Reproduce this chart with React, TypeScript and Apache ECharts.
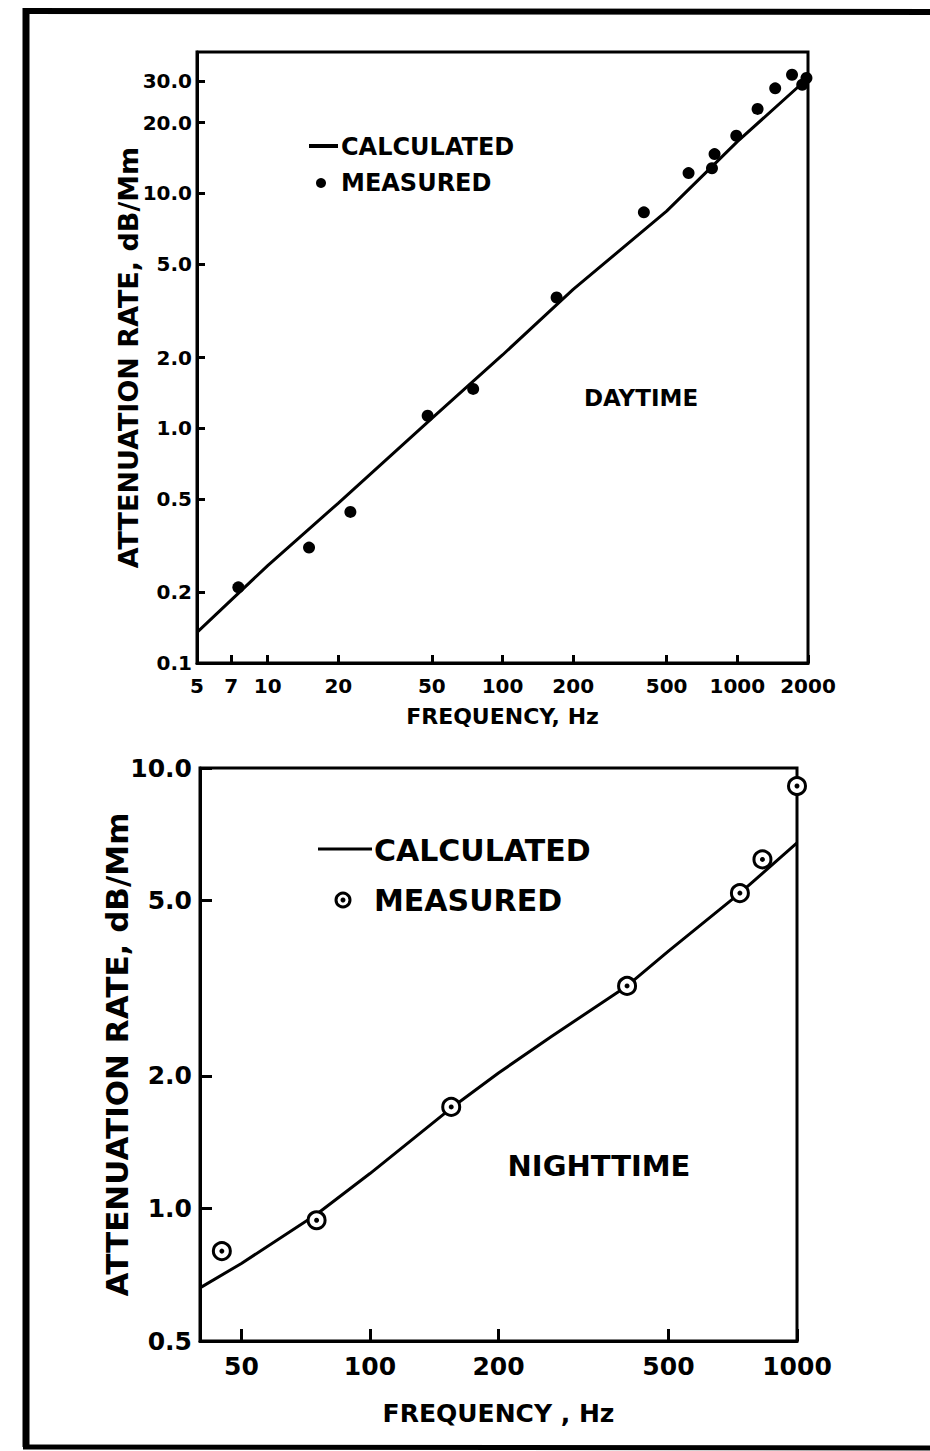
import React, { useEffect, useRef } from "react";
import * as echarts from "echarts";

// ---- Daytime panel ----
const dayTickFreqs = [5, 7, 10, 20, 50, 100, 200, 500, 1000, 2000];
const dayTickAtten = [0.1, 0.2, 0.5, 1, 2, 5, 10, 20, 30];
const dayCalcFreq = [5, 10, 20, 50, 100, 200, 500, 1000, 2000];
const dayCalcAtten = [0.135, 0.26, 0.48, 1.1, 2.05, 3.9, 8.4, 16.6, 31];
const dayMeasFreq = [7.5, 15, 22.5, 48, 75, 170, 400, 620, 780, 800, 990, 1220, 1450, 1710, 1890, 1970];
const dayMeasAtten = [0.21, 0.31, 0.44, 1.13, 1.47, 3.6, 8.3, 12.2, 12.8, 14.7, 17.6, 22.9, 28, 32, 29, 31];

// ---- Nighttime panel ----
const nightTickFreqs = [50, 100, 200, 500, 1000];
const nightTickAtten = [0.5, 1, 2, 5, 10];
const nightCalcFreq = [40, 50, 75, 100, 155, 200, 265, 400, 500, 735, 1000];
const nightCalcAtten = [0.66, 0.75, 0.97, 1.2, 1.69, 2.03, 2.45, 3.2, 3.84, 5.2, 6.76];
const nightMeasFreq = [45, 75, 155, 400, 735, 830, 1000];
const nightMeasAtten = [0.8, 0.94, 1.7, 3.2, 5.2, 6.2, 9.1];

const FONT = "DejaVu Sans";
const INK = "#000";

const zip = (a: number[], b: number[]) => a.map((v, i) => [v, b[i]]);
const fmtY = (v: number) => {
  const n = Number(Number(v).toPrecision(6));
  return n >= 1 ? n.toFixed(1) : String(n);
};
const fmtX = (v: number) => String(Number(Number(v).toPrecision(6)));

function makeX(idx: number, min: number, max: number, ticks: number[], fs: number, name: string, nameFs: number, gap: number, margin: number, tickLen: number) {
  return {
    type: "log",
    logBase: 10,
    gridIndex: idx,
    min,
    max,
    name,
    nameLocation: "middle",
    nameGap: gap,
    nameMoveOverlap: false,
    nameTextStyle: { fontFamily: FONT, fontWeight: "bold", fontSize: nameFs, color: INK },
    axisLine: { show: true, lineStyle: { color: INK, width: 3 } },
    axisTick: { show: true, inside: true, length: tickLen, lineStyle: { color: INK, width: 3 }, customValues: ticks },
    minorTick: { show: false },
    splitLine: { show: false },
    axisLabel: {
      show: true,
      customValues: ticks,
      formatter: fmtX,
      margin,
      fontFamily: FONT,
      fontWeight: "bold",
      fontSize: fs,
      color: INK,
    },
  };
}

function makeY(idx: number, min: number, max: number, ticks: number[], fs: number, name: string, nameFs: number, gap: number, margin: number, tickLen: number) {
  return {
    type: "log",
    logBase: 10,
    gridIndex: idx,
    min,
    max,
    name,
    nameLocation: "middle",
    nameRotate: 90,
    nameGap: gap,
    nameMoveOverlap: false,
    nameTextStyle: { fontFamily: FONT, fontWeight: "bold", fontSize: nameFs, color: INK },
    axisLine: { show: true, lineStyle: { color: INK, width: 3 } },
    axisTick: { show: true, inside: true, length: tickLen, lineStyle: { color: INK, width: 3 }, customValues: ticks },
    minorTick: { show: false },
    splitLine: { show: false },
    axisLabel: {
      show: true,
      customValues: ticks,
      formatter: fmtY,
      margin,
      fontFamily: FONT,
      fontWeight: "bold",
      fontSize: fs,
      color: INK,
    },
  };
}

export default function App() {
  const ref = useRef<HTMLDivElement>(null);

  useEffect(() => {
    if (!ref.current) return;
    const chart = echarts.init(ref.current, null, { renderer: "svg" });

    const txt = (x: number, y: number, text: string, size: number, align = "left") => ({
      type: "text",
      x,
      y,
      style: {
        text,
        fontFamily: FONT,
        fontWeight: "bold",
        fontSize: size,
        fill: INK,
        textAlign: align,
        textVerticalAlign: "middle",
      },
      z: 10,
    });

    const option: any = {
      animation: false,
      backgroundColor: "#fff",
      grid: [
        { left: 197, top: 52, width: 611, height: 611, show: true, borderColor: INK, borderWidth: 3, backgroundColor: "transparent" },
        { left: 200, top: 768, width: 597, height: 573, show: true, borderColor: INK, borderWidth: 3, backgroundColor: "transparent" },
      ],
      xAxis: [
        makeX(0, 5, 2000, dayTickFreqs, 20, "FREQUENCY, Hz", 22, 42, 13, 8),
        makeX(1, 40, 1000, nightTickFreqs, 25, "FREQUENCY , Hz", 25, 60, 13, 12),
      ],
      yAxis: [
        makeY(0, 0.1, 40, dayTickAtten, 20, "ATTENUATION RATE, dB/Mm", 27, 55, 5, 8),
        makeY(1, 0.5, 10, nightTickAtten, 25, "ATTENUATION RATE, dB/Mm", 31, 68, 8, 12),
      ],
      series: [
        {
          name: "CALCULATED",
          type: "line",
          xAxisIndex: 0,
          yAxisIndex: 0,
          data: zip(dayCalcFreq, dayCalcAtten),
          showSymbol: false,
          lineStyle: { color: INK, width: 3 },
          z: 2,
        },
        {
          name: "MEASURED",
          type: "scatter",
          xAxisIndex: 0,
          yAxisIndex: 0,
          data: zip(dayMeasFreq, dayMeasAtten),
          symbol: "circle",
          symbolSize: 12,
          itemStyle: { color: INK, opacity: 1 },
          z: 3,
        },
        {
          name: "CALCULATED (night)",
          type: "line",
          xAxisIndex: 1,
          yAxisIndex: 1,
          data: zip(nightCalcFreq, nightCalcAtten),
          showSymbol: false,
          lineStyle: { color: INK, width: 3 },
          z: 2,
        },
        {
          name: "MEASURED (night)",
          type: "scatter",
          xAxisIndex: 1,
          yAxisIndex: 1,
          data: zip(nightMeasFreq, nightMeasAtten),
          symbol: "circle",
          symbolSize: 17,
          itemStyle: { color: "#fff", borderColor: INK, borderWidth: 3, opacity: 1 },
          z: 3,
        },
        {
          name: "MEASURED (night) centre",
          type: "scatter",
          xAxisIndex: 1,
          yAxisIndex: 1,
          data: zip(nightMeasFreq, nightMeasAtten),
          symbol: "circle",
          symbolSize: 5,
          itemStyle: { color: INK, opacity: 1 },
          z: 4,
        },
      ],
      graphic: [
        // outer frame
        { type: "line", shape: { x1: 26, y1: 8, x2: 26, y2: 1447 }, style: { stroke: INK, lineWidth: 7 } },
        { type: "line", shape: { x1: 23, y1: 11, x2: 930, y2: 12 }, style: { stroke: INK, lineWidth: 6 } },
        { type: "line", shape: { x1: 23, y1: 1447, x2: 930, y2: 1448 }, style: { stroke: INK, lineWidth: 5 } },
        // daytime legend
        { type: "line", shape: { x1: 309, y1: 146, x2: 338, y2: 146 }, style: { stroke: INK, lineWidth: 4 } },
        txt(341, 147, "CALCULATED", 24),
        { type: "circle", shape: { cx: 321, cy: 183, r: 5 }, style: { fill: INK } },
        txt(341, 183, "MEASURED", 24),
        txt(641, 398, "DAYTIME", 23, "center"),
        // nighttime legend
        { type: "line", shape: { x1: 318, y1: 849, x2: 372, y2: 849 }, style: { stroke: INK, lineWidth: 3 } },
        txt(374, 850, "CALCULATED", 30),
        { type: "circle", shape: { cx: 343, cy: 900, r: 7 }, style: { fill: "#fff", stroke: INK, lineWidth: 3 } },
        { type: "circle", shape: { cx: 343, cy: 900, r: 2.5 }, style: { fill: INK } },
        txt(374, 900, "MEASURED", 30),
        txt(599, 1166, "NIGHTTIME", 29, "center"),
      ],
    };

    chart.setOption(option);
    return () => chart.dispose();
  }, []);

  return (
    <div
      ref={ref}
      style={{ position: "absolute", left: 0, top: 0, width: 930, height: 1451, background: "#fff" }}
    />
  );
}
